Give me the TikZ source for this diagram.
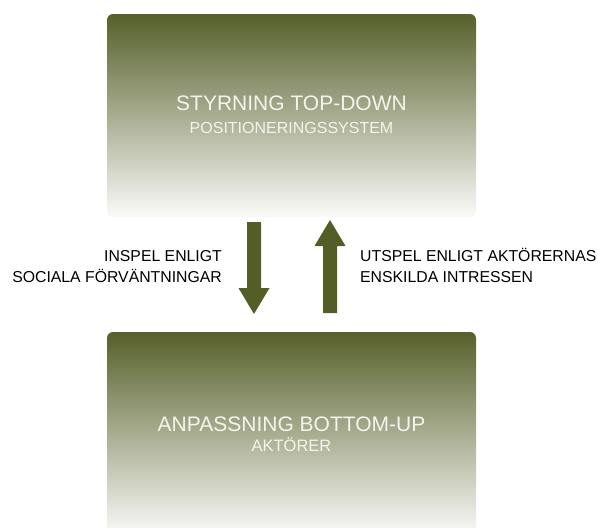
\documentclass[tikz,border=0pt]{standalone}
\usepackage{fontspec}
\setmainfont{Liberation Sans}
\definecolor{olive}{HTML}{56602A}
\definecolor{olivemid}{HTML}{A1A687}
\definecolor{paleend}{HTML}{FAFAF8}
\definecolor{arrowfill}{HTML}{535D26}
\definecolor{boxtext}{HTML}{F4F4EE}
\tikzset{
  panel/.style={rounded corners=6pt, inner sep=0pt, minimum width=369pt, minimum height=203pt,
    top color=olive, middle color=olivemid, bottom color=paleend, draw=none},
  title/.style={anchor=base, inner sep=0pt, text=boxtext, font=\fontsize{21}{25}\selectfont},
  subtitle/.style={anchor=base, inner sep=0pt, text=boxtext, font=\fontsize{16}{19}\selectfont},
  sidelabel/.style={inner sep=0pt, text=black, font=\fontsize{15.8}{21}\selectfont},
  blockarrow/.style={fill=arrowfill, draw=none}
}
\begin{document}
\begin{tikzpicture}[x=1pt, y=-1pt]
  \useasboundingbox (0,0) rectangle (598,528);
  % the two panels
  \node[panel] (upper) at (291.5,115.5) {};
  \node[panel] (lower) at (291.5,433.5) {};
  % panel texts
  \node[title] (uppertitle) at (291.5,110) {STYRNING TOP-DOWN};
  \node[subtitle] (uppersub) at (291.5,133) {POSITIONERINGSSYSTEM};
  \node[title] (lowertitle) at (291.5,431) {ANPASSNING BOTTOM-UP};
  \node[subtitle, font=\fontsize{16.5}{19}\selectfont] (lowersub) at (291.5,451) {AKTÖRER};
  % downward block arrow (shifts are in page units, where up is positive)
  \coordinate (dtop) at (254,222);
  \coordinate (dtip) at (254,314);
  \fill[blockarrow] ([xshift=-7pt]dtop) -- ([xshift=7pt]dtop) -- ([xshift=7pt,yshift=26pt]dtip)
    -- ([xshift=15.5pt,yshift=26pt]dtip) -- (dtip) -- ([xshift=-15.5pt,yshift=26pt]dtip)
    -- ([xshift=-7pt,yshift=26pt]dtip) -- cycle;
  % upward block arrow
  \coordinate (ubot) at (330,313);
  \coordinate (utip) at (330,220);
  \fill[blockarrow] ([xshift=-7pt]ubot) -- ([xshift=7pt]ubot) -- ([xshift=7pt,yshift=-26pt]utip)
    -- ([xshift=15.5pt,yshift=-26pt]utip) -- (utip) -- ([xshift=-15.5pt,yshift=-26pt]utip)
    -- ([xshift=-7pt,yshift=-26pt]utip) -- cycle;
  % arrow labels (base anchor sits on the last line)
  \node[sidelabel, anchor=base east, align=right] (inspel) at (222,282)
    {INSPEL ENLIGT\\SOCIALA FÖRVÄNTNINGAR};
  \node[sidelabel, anchor=base west, align=left] (utspel) at (360,282)
    {UTSPEL ENLIGT AKTÖRERNAS\\ENSKILDA INTRESSEN};
\end{tikzpicture}
\end{document}
